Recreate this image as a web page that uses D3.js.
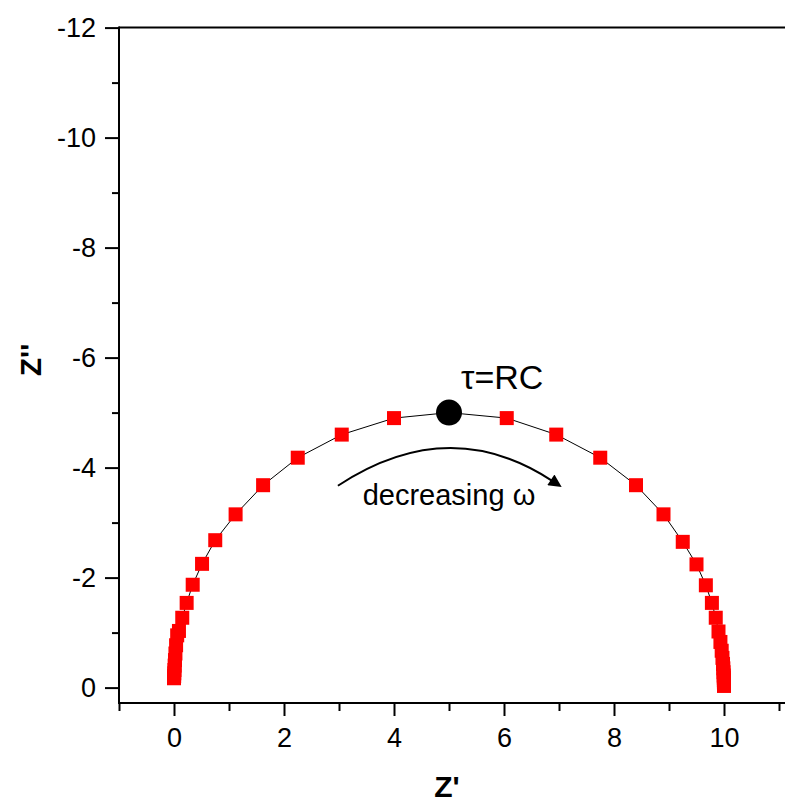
<!DOCTYPE html>
<html><head><meta charset="utf-8">
<script src="https://cdn.jsdelivr.net/npm/d3@7"></script>
<style>body{margin:0;background:#fff}svg{display:block}text{font-family:"Liberation Sans",Arial,sans-serif}</style>
</head><body>
<svg id="c" width="785" height="803"></svg>
<script>
const zReal = [0.000,0.003,0.005,0.008,0.012,0.018,0.026,0.038,0.058,0.09,0.15,0.23,0.34,0.51,0.75,1.12,1.62,2.25,3.05,4.00,5.00,
               6.05,6.95,7.75,8.40,8.90,9.25,9.50,9.67,9.78,9.85,9.90,9.935,9.958,9.972,9.982,9.988,9.992,9.995,9.997,9.998,9.999,9.999,10.0,10.0,10.0];
const zImag = [-0.17,-0.21,-0.26,-0.32,-0.40,-0.50,-0.62,-0.77,-0.95,-1.03,-1.27,-1.54,-1.87,-2.25,-2.68,-3.15,-3.68,-4.18,-4.60,-4.90,-5.00,
               -4.90,-4.60,-4.18,-3.68,-3.15,-2.65,-2.24,-1.86,-1.54,-1.27,-1.02,-0.83,-0.67,-0.54,-0.43,-0.35,-0.28,-0.22,-0.18,-0.14,-0.11,-0.09,-0.07,-0.05,-0.03];
const tauPoint = [5.0, -5.0];
const xMajor = [0,2,4,6,8,10];
const xMinor = [-1,1,3,5,7,9,11];
const yMajor = [0,-2,-4,-6,-8,-10,-12];
const yMinor = [-1,-3,-5,-7,-9,-11];
const arrowPts = [[2.98,-3.67],[5.0,-5.0],[7.0,-3.66]];
const labels = {x:"Z'", y:"Z''", tau:"\u03C4=RC", arrow:"decreasing \u03C9"};

const svg = d3.select("#c");
const x = d3.scaleLinear().domain([-1, 11.2]).range([119, 790]);
const y = d3.scaleLinear().domain([0.28, -12]).range([703, 27.6]);

// line
const pts = zReal.map((v,i)=>[v, zImag[i]]);
svg.append("path").datum(pts)
  .attr("d", d3.line().x(d=>x(d[0])).y(d=>y(d[1])))
  .attr("fill","none").attr("stroke","#000").attr("stroke-width",1);

// squares
const s = 14;
svg.append("g").selectAll("rect").data(pts).join("rect")
  .attr("x", d=>x(d[0])-s/2).attr("y", d=>y(d[1])-s/2)
  .attr("width", s).attr("height", s).attr("fill","#ff0000");

// tau point
svg.append("circle").attr("cx", x(tauPoint[0])).attr("cy", y(tauPoint[1])).attr("r", 13).attr("fill","#000");
svg.append("text").attr("x", x(tauPoint[0])+12).attr("y", 389)
  .attr("font-size", 34).text(labels.tau);

// arrow
const defs = svg.append("defs");
defs.append("marker").attr("id","ah").attr("markerUnits","userSpaceOnUse")
  .attr("viewBox","0 0 10 10").attr("refX",2).attr("refY",5)
  .attr("markerWidth",18).attr("markerHeight",13).attr("orient","auto")
  .append("path").attr("d","M0,0 L10,5 L0,10 z").attr("fill","#000");
const a = arrowPts;
svg.append("path")
  .attr("d", `M${x(a[0][0])},${y(a[0][1])} Q${x(a[1][0])},${y(a[1][1])} ${x(a[2][0])-6},${y(a[2][1])-5}`)
  .attr("fill","none").attr("stroke","#000").attr("stroke-width",2).attr("marker-end","url(#ah)");
svg.append("text").attr("x", x(5.0)).attr("y", 505).attr("text-anchor","middle")
  .attr("font-size", 29).text(labels.arrow);

// axes
const fmt = d => String(d);
const ax = svg.append("g").attr("transform",`translate(0,${y(0.28)})`);
ax.call(d3.axisBottom(x).tickValues(xMajor).tickSize(13).tickPadding(12).tickFormat(fmt));
const axm = svg.append("g").attr("transform",`translate(0,${y(0.28)})`);
axm.call(d3.axisBottom(x).tickValues(xMinor).tickSize(8).tickFormat(""));
const ay = svg.append("g").attr("transform",`translate(${x(-1)},0)`);
ay.call(d3.axisLeft(y).tickValues(yMajor).tickSize(14).tickPadding(9).tickFormat(fmt));
const aym = svg.append("g").attr("transform",`translate(${x(-1)},0)`);
aym.call(d3.axisLeft(y).tickValues(yMinor).tickSize(7).tickFormat(""));
[ax,axm,ay,aym].forEach(g=>{
  g.select(".domain").remove();
  g.selectAll(".tick line").attr("stroke","#000").attr("stroke-width",2);
  g.selectAll(".tick text").attr("font-size",27).attr("fill","#000").attr("font-family","Liberation Sans, Arial, sans-serif");
});
// frame lines
svg.append("line").attr("x1",x(-1)).attr("x2",x(-1)).attr("y1",y(-12)-1).attr("y2",y(0.28)+1).attr("stroke","#000").attr("stroke-width",2);
svg.append("line").attr("x1",x(-1)-1).attr("x2",790).attr("y1",y(0.28)).attr("y2",y(0.28)).attr("stroke","#000").attr("stroke-width",2);
svg.append("line").attr("x1",x(-1)).attr("x2",790).attr("y1",y(-12)).attr("y2",y(-12)).attr("stroke","#000").attr("stroke-width",2);

// titles
svg.append("text").attr("x", 447).attr("y", 797).attr("text-anchor","middle")
  .attr("font-size",30).attr("font-weight","bold").text(labels.x);
svg.append("text").attr("transform","translate(41,360) rotate(-90)").attr("text-anchor","middle")
  .attr("font-size",30).attr("font-weight","bold").text(labels.y);
</script>
</body></html>
